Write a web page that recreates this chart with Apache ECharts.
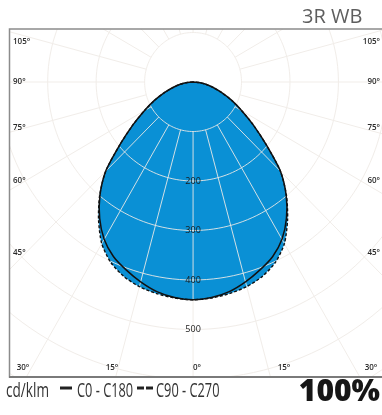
<!DOCTYPE html>
<html>
<head>
<meta charset="utf-8">
<script src="https://cdn.jsdelivr.net/npm/echarts@6/dist/echarts.min.js"></script>
<style>
html,body{margin:0;padding:0;background:#fff;}
#chart{width:382px;height:415px;}
</style>
</head>
<body>
<div id="chart"></div>
<script>
// ---- data (angle from nadir in degrees, intensity in cd/klm) ----
const angles   = [0, 5, 10, 15, 20, 25, 30, 35, 40, 45, 50, 55, 60, 65, 70, 75, 80, 85, 90];
const c0c180   = [440, 437, 430, 418, 404, 389, 367, 336, 299, 255, 197, 152, 116, 88, 63, 43, 27, 12, 0];
const c90c270  = [440, 438, 434, 428, 418, 402, 377, 340, 300, 255, 197, 152, 116, 88, 63, 43, 27, 12, 0];
const radiusLabels = [200, 300, 400, 500];
const gridRadii = [100, 200, 300, 400, 500, 600, 700];
const sideAngleLabels = ['105°', '90°', '75°', '60°', '45°'];
const bottomAngleLabels = ['30°', '15°', '0°', '15°', '30°'];
const title = '3R WB';
const unitText = 'cd/klm';
const legendNames = ['C0 - C180', 'C90 - C270'];
const percentText = '100%';

// ---- layout ----
const CX = 197, CY = 82, K = 0.495;           // pole position (px) and px per cd/klm
const G = {left: 10, top: 29, width: 380, height: 348};
const BLUE = '#0a90d5';
const GRID_OUT = '#f1ede9';
const GRID_IN = 'rgba(232,232,230,0.9)';

const rad = d => d * Math.PI / 180;
function curve(vals) {
  const pts = [];
  for (let i = angles.length - 1; i >= 0; i--) pts.push([-vals[i] * Math.sin(rad(angles[i])), vals[i] * Math.cos(rad(angles[i]))]);
  for (let i = 1; i < angles.length; i++) pts.push([vals[i] * Math.sin(rad(angles[i])), vals[i] * Math.cos(rad(angles[i]))]);
  return pts;
}
const curveSolid = curve(c0c180);
const curveDashed = curve(c90c270);
const curveUnion = curve(c0c180.map((v, i) => Math.max(v, c90c270[i])));

// grid geometry (in data units)
const gridPolys = [];
gridRadii.forEach(r => {
  const p = [];
  for (let a = 0; a <= 360; a += 2) p.push([r * Math.sin(rad(a)), r * Math.cos(rad(a))]);
  gridPolys.push(p);
});
for (let a = -180; a < 180; a += 15) {
  gridPolys.push([[100 * Math.sin(rad(a)), 100 * Math.cos(rad(a))], [1000 * Math.sin(rad(a)), 1000 * Math.cos(rad(a))]]);
}

const chart = echarts.init(document.getElementById('chart'), null, {renderer: 'canvas'});

const sideYs = [42, 82, 128, 181, 253];
const bottomXs = [23, 112, 197, 284, 371];
const smallFont = {fontSize: 8, fontFamily: 'Open Sans', fontWeight: 600, fill: '#2a2a2a', verticalAlign: 'middle'};
const graphics = [];
graphics.push({type: 'rect', shape: {x: 9.5, y: 29, width: 390, height: 348}, style: {fill: null, stroke: '#8c8c8c', lineWidth: 1.5}, z: 100});
graphics.push({type: 'line', shape: {x1: 9, y1: 377, x2: 390, y2: 377}, style: {stroke: '#7a7a7a', lineWidth: 2}, z: 101});
sideAngleLabels.forEach((t, i) => {
  graphics.push({type: 'text', x: 13, y: sideYs[i], style: Object.assign({text: t, align: 'left'}, smallFont), z: 102});
  graphics.push({type: 'text', x: 380, y: sideYs[i], style: Object.assign({text: t, align: 'right'}, smallFont), z: 102});
});
bottomAngleLabels.forEach((t, i) => {
  graphics.push({type: 'text', x: bottomXs[i], y: 368, style: Object.assign({text: t, align: 'center'}, smallFont), z: 102});
});
graphics.push({type: 'text', x: 302, y: 17, style: {text: title, fontSize: 20, fontFamily: 'Open Sans', fill: '#5e5e5e', align: 'left', verticalAlign: 'middle'}, z: 102});
graphics.push({type: 'text', x: 6, y: 391, scaleX: 0.68, style: {text: unitText, fontSize: 20, fontFamily: 'Open Sans', fill: '#333', align: 'left', verticalAlign: 'middle'}, z: 102});
graphics.push({type: 'line', shape: {x1: 60, y1: 388, x2: 72, y2: 388}, style: {stroke: '#222', lineWidth: 3}, z: 102});
graphics.push({type: 'text', x: 77, y: 391, scaleX: 0.64, style: {text: legendNames[0], fontSize: 20, fontFamily: 'Open Sans', fill: '#333', align: 'left', verticalAlign: 'middle'}, z: 102});
graphics.push({type: 'line', shape: {x1: 137, y1: 388, x2: 144, y2: 388}, style: {stroke: '#222', lineWidth: 3}, z: 102});
graphics.push({type: 'line', shape: {x1: 146, y1: 388, x2: 153, y2: 388}, style: {stroke: '#222', lineWidth: 3}, z: 102});
graphics.push({type: 'text', x: 156, y: 391, scaleX: 0.64, style: {text: legendNames[1], fontSize: 20, fontFamily: 'Open Sans', fill: '#333', align: 'left', verticalAlign: 'middle'}, z: 102});
graphics.push({type: 'text', x: 380, y: 392, style: {text: percentText, fontSize: 30, fontWeight: 900, fontFamily: 'Open Sans', fill: '#161616', align: 'right', verticalAlign: 'middle'}, z: 102});

function gridGroup(api, color, clipPts) {
  const g = {
    type: 'group',
    children: gridPolys.map(pts => ({
      type: 'polyline', shape: {points: pts.map(p => api.coord(p))}, style: {fill: null, stroke: color, lineWidth: 1}
    }))
  };
  if (clipPts) g.clipPath = {type: 'polygon', shape: {points: clipPts.map(p => api.coord(p)), smooth: 0.25}};
  return g;
}

const option = {
  animation: false,
  backgroundColor: '#fff',
  grid: {left: G.left, top: G.top, width: G.width, height: G.height, show: false},
  xAxis: {type: 'value', min: (G.left - CX) / K, max: (G.left + G.width - CX) / K, show: false},
  yAxis: {type: 'value', inverse: true, min: (G.top - CY) / K, max: (G.top + G.height - CY) / K, show: false},
  series: [
    {
      type: 'custom', z: 0, clip: true, data: [[0, 0]], silent: true,
      renderItem: (params, api) => gridGroup(api, GRID_OUT, null)
    },
    {
      type: 'custom', z: 1, clip: true, data: [[0, 0]], silent: true,
      renderItem: (params, api) => ({
        type: 'group',
        children: [curveSolid, curveDashed].map(pts => ({
          type: 'polygon', shape: {points: pts.map(p => api.coord(p)), smooth: 0.25}, style: {fill: BLUE, stroke: null}
        }))
      })
    },
    {
      type: 'custom', z: 2, clip: true, data: [[0, 0]], silent: true,
      renderItem: (params, api) => gridGroup(api, GRID_IN, curveUnion)
    },
    {
      type: 'custom', z: 3, clip: true, data: [[0, 0]], silent: true,
      renderItem: (params, api) => ({
        type: 'group',
        children: [
          {type: 'polyline', shape: {points: curveDashed.map(p => api.coord(p)), smooth: 0.25}, style: {fill: null, stroke: '#111', lineWidth: 1.4, lineDash: [3, 2]}},
          {type: 'polyline', shape: {points: curveSolid.map(p => api.coord(p)), smooth: 0.25}, style: {fill: null, stroke: '#111', lineWidth: 1.5}}
        ]
      })
    },
    {
      type: 'custom', z: 4, silent: true,
      data: radiusLabels.map(r => [0, r]),
      renderItem: (params, api) => {
        const p = api.coord([api.value(0), api.value(1)]);
        return {type: 'text', x: p[0], y: p[1], style: {text: String(api.value(1)), fontSize: 9, fontFamily: 'Open Sans', fill: '#1a1a1a', align: 'center', verticalAlign: 'middle'}};
      }
    }
  ],
  graphic: graphics
};
chart.setOption(option);
</script>
</body>
</html>
